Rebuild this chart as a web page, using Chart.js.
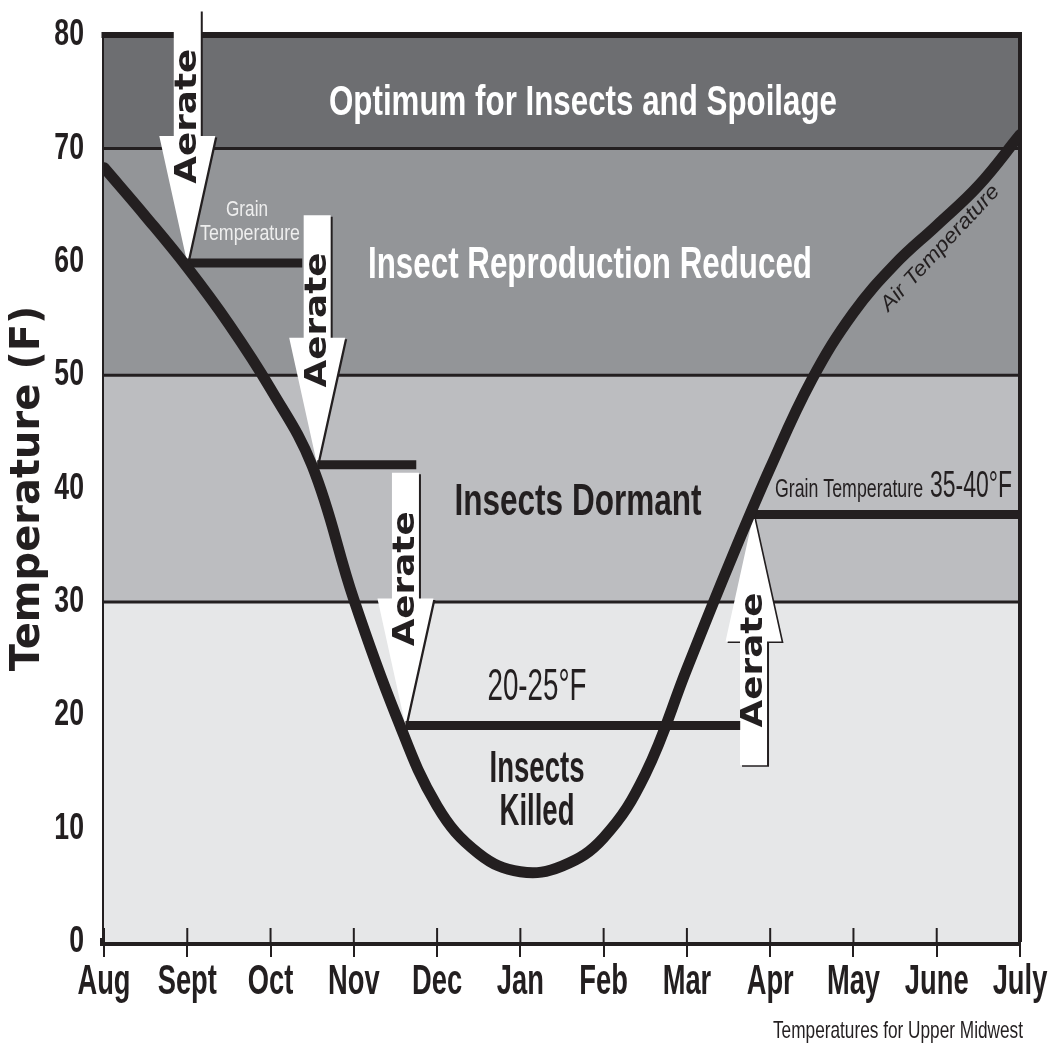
<!DOCTYPE html>
<html>
<head>
<meta charset="utf-8">
<script src="https://cdn.jsdelivr.net/npm/chart.js@4.4.1/dist/chart.umd.min.js"></script>
<style>
  html, body { margin: 0; padding: 0; background: #fff; overflow: hidden; }
  #wrap { width: 1049px; height: 1043px; }
</style>
</head>
<body>
<div id="wrap"><canvas id="grainChart" width="1049" height="1043"></canvas></div>
<script>
// ---- data ----
const months = ['Aug', 'Sept', 'Oct', 'Nov', 'Dec', 'Jan', 'Feb', 'Mar', 'Apr', 'May', 'June', 'July'];
const yTicks = [0, 10, 20, 30, 40, 50, 60, 70, 80];

// air temperature curve, month index (0 = Aug) vs degrees F
const airMonth = [0, 0.5, 1, 1.5, 2, 2.5, 3, 3.5, 4, 4.5, 5, 5.5, 6, 6.5, 7, 7.5, 8, 8.5, 9, 9.5, 10, 10.5, 11];
const airTemp = [68.3, 64, 59.5, 54.5, 48.8, 42, 30.2, 20.1, 12, 7.8, 6.2, 6.7, 9.2, 14.8, 24.1, 33.2, 41.8, 49.6, 55.5, 59.8, 63.2, 66.7, 71.2];

// grain temperature steps
const grainStart = [1.0, 2.56, 3.62, 7.80];
const grainEnd = [2.38, 3.75, 7.64, 11];
const grainTemp = [59.9, 42.1, 19.1, 37.7];

// aerate arrows: tail temperature, tip = start of each grain step
const arrowTail = [82.2, 64.1, 41.4, 15.6];

// temperature zones
const bandLow = [0, 30, 50, 70];
const bandHigh = [30, 50, 70, 80];

// ---- styles ----
const DARK = '#231f20';
const bandColors = ['#e6e7e8', '#bcbdc0', '#939598', '#6d6e71'];
const SANS = '"Liberation Sans", Arial, sans-serif';

const notes = [
    { text: 'Optimum for Insects and Spoilage', x: 583, y: 115, size: 42, w: 508, weight: 'bold', color: '#ffffff' },
    { text: 'Insect Reproduction Reduced', x: 590, y: 278, size: 44, w: 444, weight: 'bold', color: '#ffffff' },
    { text: 'Insects Dormant', x: 578, y: 515, size: 44, w: 247, weight: 'bold', color: DARK },
    { text: '20-25°F', x: 537, y: 700, size: 44, w: 99, weight: 'normal', color: DARK },
    { text: 'Insects', x: 537, y: 782, size: 44, w: 95, weight: 'bold', color: DARK },
    { text: 'Killed', x: 537, y: 825, size: 44, w: 75, weight: 'bold', color: DARK },
    { text: 'Grain', x: 247, y: 216, size: 22, w: 42, weight: 'normal', color: '#eeeeee' },
    { text: 'Temperature', x: 250, y: 240, size: 22, w: 100, weight: 'normal', color: '#eeeeee' },
    { text: 'Grain Temperature', x: 849, y: 497, size: 26, w: 148, weight: 'normal', color: DARK },
    { text: '35-40°F', x: 971, y: 497, size: 37, w: 82, weight: 'normal', color: DARK },
    { text: 'Air Temperature', x: 939, y: 247, size: 21, w: 164, weight: 'normal', style: 'italic', color: DARK, angle: -47, mid: true },
    { text: 'Temperatures for Upper Midwest', x: 898, y: 1038, size: 24, w: 250, weight: 'normal', color: DARK }
];

function fitText(ctx, n) {
    ctx.save();
    ctx.translate(n.x, n.y);
    if (n.angle) ctx.rotate(n.angle * Math.PI / 180);
    ctx.font = (n.style || 'normal') + ' ' + n.weight + ' ' + n.size + 'px ' + (n.family || SANS);
    const w = ctx.measureText(n.text).width;
    ctx.scale(n.w / w, 1);
    ctx.fillStyle = n.color;
    ctx.textAlign = 'center';
    ctx.textBaseline = 'alphabetic';
    ctx.fillText(n.text, 0, n.mid ? n.size * 0.36 : 0);
    ctx.restore();
}

function line(ctx, x1, y1, x2, y2) {
    ctx.beginPath();
    ctx.moveTo(x1, y1);
    ctx.lineTo(x2, y2);
    ctx.stroke();
}

function arrowPath(ctx, x, yTail, yTip, dx, dy) {
    const dir = yTip > yTail ? 1 : -1;
    const shaft = 13.5, head = 28, headLen = 127;
    const yBase = yTip - dir * headLen;
    ctx.beginPath();
    ctx.moveTo(x - shaft + dx, yTail + dy);
    ctx.lineTo(x + shaft + dx, yTail + dy);
    ctx.lineTo(x + shaft + dx, yBase + dy);
    ctx.lineTo(x + head + dx, yBase + dy);
    ctx.lineTo(x + dx, yTip + dy);
    ctx.lineTo(x - head + dx, yBase + dy);
    ctx.lineTo(x - shaft + dx, yBase + dy);
    ctx.closePath();
}

// the reference uses a condensed face; squeeze the tick labels with fillText's maxWidth
const squeeze = {
    id: 'squeeze',
    beforeDraw(chart) {
        const ctx = chart.ctx;
        [['x', 0.65], ['y', 0.72]].forEach(([id, f]) => {
            const scale = chart.scales[id];
            scale.getLabelItems(chart.chartArea).forEach(item => {
                ctx.save();
                ctx.font = item.font.string;
                item.options.maxWidth = ctx.measureText(item.label).width * f;
                ctx.restore();
            });
        });
    }
};

const backdrop = {
    id: 'backdrop',
    beforeDatasetsDraw(chart) {
        const { ctx, chartArea: a, scales: { x, y } } = chart;
        ctx.save();
        bandLow.forEach((lo, i) => {
            const top = y.getPixelForValue(bandHigh[i]);
            const bot = y.getPixelForValue(lo);
            ctx.fillStyle = bandColors[i];
            ctx.fillRect(a.left, top, a.right - a.left, bot - top);
        });
        ctx.strokeStyle = DARK;
        ctx.lineWidth = 3;
        bandHigh.slice(0, 3).forEach(v => {
            const py = y.getPixelForValue(v);
            line(ctx, a.left, py, a.right, py);
        });
        // frame top and right
        ctx.lineWidth = 6;
        line(ctx, a.left - 2.5, a.top, a.right + 2, a.top);
        ctx.lineWidth = 4;
        line(ctx, a.right, a.top, a.right, a.bottom);
        // tick marks poking into the plot
        ctx.lineWidth = 2;
        x.ticks.forEach((t, i) => {
            const px = x.getPixelForTick(i);
            line(ctx, px, a.bottom - 14, px, a.bottom);
        });
        // aerate arrows
        arrowTail.forEach((tail, i) => {
            const px = x.getPixelForValue(grainStart[i]);
            const yT = y.getPixelForValue(tail);
            const yP = y.getPixelForValue(grainTemp[i]);
            ctx.fillStyle = DARK;
            arrowPath(ctx, px, yT, yP, 2, 1.5);
            ctx.fill();
            ctx.fillStyle = '#ffffff';
            arrowPath(ctx, px, yT, yP, 0, 0);
            ctx.fill();
            fitText(ctx, {
                text: 'Aerate', x: px - 2, y: yT + 0.42 * (yP - yT), size: 30, w: 135,
                weight: 'bold', family: '"DejaVu Sans", sans-serif', color: DARK, angle: -90, mid: true
            });
        });
        ctx.restore();
    },
    afterDatasetsDraw(chart) {
        const ctx = chart.ctx;
        notes.forEach(n => fitText(ctx, n));
    }
};

const grainPoints = [];
grainStart.forEach((s, i) => {
    grainPoints.push({ x: s, y: grainTemp[i] });
    grainPoints.push({ x: grainEnd[i], y: grainTemp[i] });
    grainPoints.push({ x: grainEnd[i], y: null });
});

new Chart(document.getElementById('grainChart'), {
    type: 'line',
    data: {
        datasets: [{
            label: 'Air Temperature',
            data: airMonth.map((m, i) => ({ x: m, y: airTemp[i] })),
            borderColor: DARK,
            borderWidth: 11,
            pointRadius: 0,
            tension: 0.4,
            borderCapStyle: 'round'
        }, {
            label: 'Grain Temperature',
            data: grainPoints,
            borderColor: DARK,
            borderWidth: 9,
            pointRadius: 0,
            spanGaps: false
        }]
    },
    options: {
        responsive: false,
        animation: false,
        layout: { padding: { top: 35, right: 29, left: 0, bottom: 0 } },
        plugins: {
            legend: { display: false },
            tooltip: { enabled: false }
        },
        scales: {
            x: {
                type: 'linear',
                min: 0,
                max: 11,
                afterFit: s => { s.height = 101; s.paddingLeft = 0; s.paddingRight = 0; },
                grid: { drawOnChartArea: false, drawTicks: true, tickLength: 15, color: DARK, lineWidth: 2 },
                border: { color: DARK, width: 8 },
                ticks: {
                    stepSize: 1,
                    autoSkip: false,
                    maxRotation: 0,
                    padding: 0,
                    color: DARK,
                    font: { family: SANS, size: 42, weight: 'bold' },
                    callback: v => months[v]
                }
            },
            y: {
                min: 0,
                max: 80,
                afterFit: s => { s.width = 104; s.paddingTop = 0; s.paddingBottom = 0; },
                afterBuildTicks: s => { s.ticks = yTicks.map(v => ({ value: v })); },
                grid: { display: false, drawTicks: false },
                border: { color: DARK, width: 5 },
                ticks: {
                    padding: 20,
                    color: DARK,
                    font: { family: SANS, size: 37, weight: 'bold' }
                },
                title: {
                    display: true,
                    text: 'Temperature (F)',
                    color: DARK,
                    font: { family: '"DejaVu Sans", sans-serif', size: 40, weight: 'bold' },
                    padding: { top: 5, bottom: 0 }
                }
            }
        }
    },
    plugins: [squeeze, backdrop]
});
</script>
</body>
</html>
